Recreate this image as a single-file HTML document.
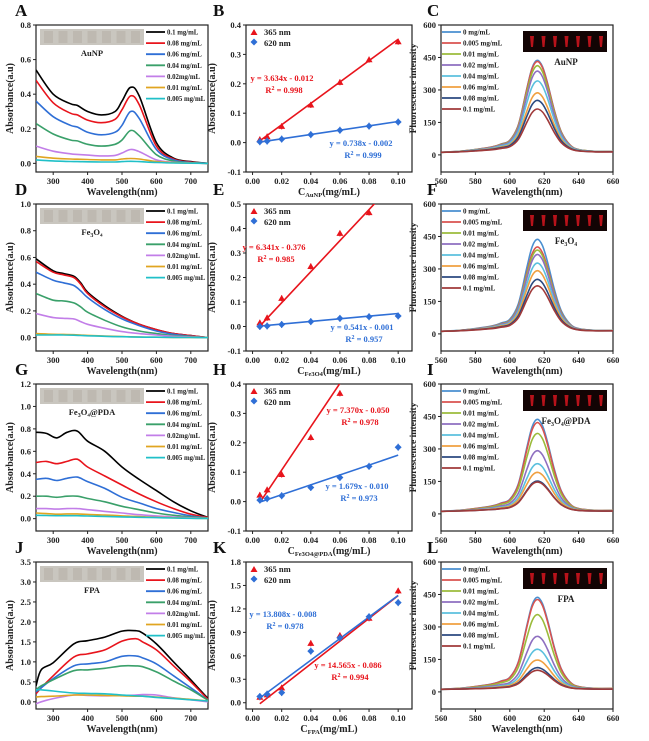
<!DOCTYPE html>
<html><head><meta charset="utf-8"><style>
body{margin:0;background:#fff;}
svg{display:block;font-family:"Liberation Serif",serif;font-weight:bold;}
</style></head><body>
<svg id="fig" width="649" height="741" viewBox="0 0 649 741" xmlns="http://www.w3.org/2000/svg"></svg>
<script>
// ---------- DATA ----------
const absLegend = ["0.1 mg/mL","0.08 mg/mL","0.06 mg/mL","0.04 mg/mL","0.02mg/mL","0.01 mg/mL","0.005 mg/mL"];
const absColors = ["#000000","#e8141c","#2f6fd6","#3aa06a","#c27ee8","#e0a520","#20c0c8"];
const wlA = [250,300,350,370,400,440,480,500,525,550,600,650,700,750];
const specA = [
 [0.54,0.40,0.345,0.335,0.30,0.28,0.30,0.36,0.44,0.39,0.12,0.03,0.01,0.0],
 [0.48,0.35,0.29,0.28,0.25,0.235,0.255,0.31,0.39,0.34,0.10,0.025,0.008,0.0],
 [0.36,0.27,0.22,0.21,0.18,0.165,0.18,0.22,0.30,0.26,0.08,0.02,0.005,0.0],
 [0.23,0.17,0.135,0.13,0.11,0.10,0.11,0.135,0.19,0.16,0.05,0.013,0.003,0],
 [0.10,0.07,0.055,0.052,0.048,0.043,0.046,0.06,0.08,0.068,0.02,0.006,0.002,0],
 [0.04,0.03,0.025,0.024,0.022,0.02,0.02,0.025,0.028,0.025,0.01,0.004,0.002,0],
 [0.02,0.014,0.011,0.01,0.009,0.008,0.008,0.01,0.012,0.01,0.005,0.002,0.001,0]];
const wlD = [250,300,330,360,380,400,450,500,550,600,650,700,750];
const specD = [
 [0.59,0.50,0.48,0.46,0.41,0.34,0.24,0.16,0.10,0.06,0.03,0.015,0.0],
 [0.57,0.49,0.47,0.45,0.40,0.33,0.23,0.155,0.10,0.06,0.03,0.015,0],
 [0.49,0.43,0.41,0.39,0.35,0.30,0.21,0.14,0.09,0.05,0.025,0.01,0],
 [0.33,0.28,0.275,0.26,0.23,0.19,0.13,0.08,0.05,0.03,0.015,0.008,0],
 [0.18,0.15,0.145,0.14,0.12,0.10,0.07,0.045,0.03,0.02,0.01,0.005,0],
 [0.03,0.025,0.024,0.022,0.02,0.017,0.012,0.008,0.005,0.003,0.002,0.001,0],
 [0.02,0.02,0.02,0.018,0.016,0.014,0.01,0.007,0.004,0.003,0.002,0.001,0]];
const wlG = [250,280,310,340,370,400,450,500,550,600,650,700,750];
const specG = [
 [0.77,0.76,0.72,0.77,0.78,0.69,0.60,0.46,0.35,0.25,0.15,0.07,0.01],
 [0.50,0.51,0.49,0.51,0.53,0.46,0.38,0.30,0.22,0.15,0.09,0.04,0.01],
 [0.35,0.36,0.34,0.36,0.37,0.33,0.27,0.19,0.14,0.09,0.055,0.025,0.005],
 [0.20,0.20,0.19,0.20,0.20,0.18,0.15,0.11,0.08,0.05,0.03,0.015,0.005],
 [0.09,0.09,0.085,0.09,0.09,0.08,0.065,0.05,0.035,0.025,0.015,0.008,0.003],
 [0.05,0.045,0.04,0.042,0.042,0.038,0.032,0.025,0.018,0.012,0.008,0.004,0.002],
 [0.03,0.028,0.026,0.026,0.026,0.024,0.02,0.016,0.012,0.009,0.006,0.003,0.001]];
const wlJ = [250,265,300,360,400,450,500,540,560,600,650,700,750];
const specJ = [
 [0.4,0.8,0.98,1.45,1.53,1.62,1.77,1.78,1.72,1.45,1.00,0.55,0.08],
 [0.2,0.35,0.65,1.12,1.20,1.30,1.52,1.58,1.50,1.30,0.90,0.50,0.06],
 [0.25,0.35,0.58,0.90,0.95,1.00,1.14,1.15,1.10,0.95,0.65,0.35,0.04],
 [0.3,0.4,0.55,0.78,0.80,0.84,0.90,0.90,0.88,0.75,0.52,0.30,0.04],
 [-0.05,0.0,0.08,0.17,0.16,0.15,0.16,0.17,0.18,0.17,0.10,0.05,0.0],
 [0.12,0.13,0.14,0.17,0.17,0.16,0.15,0.14,0.14,0.12,0.09,0.06,0.02],
 [0.3,0.3,0.27,0.22,0.21,0.2,0.17,0.15,0.14,0.11,0.08,0.05,0.02]];

const conc = [0.005,0.01,0.02,0.04,0.06,0.08,0.1];
const redB = [0.01,0.02,0.055,0.128,0.205,0.282,0.343];
const blueB = [0.003,0.005,0.012,0.027,0.042,0.056,0.07];
const redE = [0.015,0.035,0.115,0.245,0.38,0.465];
const blueE = [0,0.002,0.008,0.02,0.033,0.04,0.043];
const redH = [0.022,0.04,0.092,0.218,0.368];
const blueH = [0.005,0.01,0.02,0.048,0.082,0.12,0.185];
const redK = [0.07,0.1,0.19,0.76,0.86,1.08,1.43];
const blueK = [0.08,0.11,0.13,0.66,0.83,1.1,1.28];

const flLegend = ["0 mg/mL","0.005 mg/mL","0.01 mg/mL","0.02 mg/mL","0.04 mg/mL","0.06 mg/mL","0.08 mg/mL","0.1 mg/mL"];
const flColors = ["#4a8fd0","#d9534f","#9bbb3b","#8e6fc0","#5bc0de","#f0a040","#2b4a80","#a03a3a"];
const flWl = [560,570,580,590,595,600,605,610,613,616,619,622,626,630,635,640,650,660];
const flShape = [0,0.01,0.03,0.06,0.09,0.13,0.3,0.7,0.92,1.0,0.93,0.75,0.45,0.22,0.08,0.03,0.01,0.01];
const peaksC = [425,420,400,375,330,275,240,200];
const peaksF = [425,390,375,355,315,280,240,210];
const peaksI = [425,410,360,280,220,180,140,135];
const peaksL = [425,415,345,245,185,135,100,88];

// ---------- HELPERS ----------
const NS="http://www.w3.org/2000/svg";
const svg=document.getElementById('fig');
function el(tag,attrs,parent){const e=document.createElementNS(NS,tag);for(const k in attrs)e.setAttribute(k,attrs[k]);(parent||svg).appendChild(e);return e;}
function txt(s,x,y,size,fill,anchor,parent){const t=el('text',{x:x,y:y,'font-size':size,fill:fill||'#222','text-anchor':anchor||'start'},parent);t.textContent=s;return t;}
function spline(pts){let d='M'+pts[0][0].toFixed(1)+','+pts[0][1].toFixed(1);
 for(let i=0;i<pts.length-1;i++){const p0=pts[i-1]||pts[i],p1=pts[i],p2=pts[i+1],p3=pts[i+2]||p2;
  const c1=[p1[0]+(p2[0]-p0[0])/6,p1[1]+(p2[1]-p0[1])/6],c2=[p2[0]-(p3[0]-p1[0])/6,p2[1]-(p3[1]-p1[1])/6];
  d+='C'+c1[0].toFixed(1)+','+c1[1].toFixed(1)+' '+c2[0].toFixed(1)+','+c2[1].toFixed(1)+' '+p2[0].toFixed(1)+','+p2[1].toFixed(1);}
 return d;}
let clipId=0;
function axes(o){
 const g=el('g',{});
 
 
 const sx=v=>o.x0+(v-o.xmin)/(o.xmax-o.xmin)*(o.x1-o.x0);
 const sy=v=>o.y1-(v-o.ymin)/(o.ymax-o.ymin)*(o.y1-o.y0);
 el('rect',{x:o.x0,y:o.y0,width:o.x1-o.x0,height:o.y1-o.y0,fill:'none',stroke:'#222','stroke-width':1.2},g);
 o.xt.forEach((v,i)=>{const X=sx(v);el('line',{x1:X,x2:X,y1:o.y1,y2:o.y1+3,stroke:'#222'},g);
  const t=txt(o.xl[i],X,o.y1+12,8.5,'#222','middle',g);
  
  });
 o.yt.forEach((v,i)=>{const Y=sy(v);el('line',{x1:o.x0-3,x2:o.x0,y1:Y,y2:Y,stroke:'#222'},g);
  const t=txt(o.yl[i],o.x0-5,Y+3,8.5,'#222','end',g);
  
  });
 const id='c'+(clipId++);
 const cp=el('clipPath',{id:id},g);el('rect',{x:o.x0,y:o.y0,width:o.x1-o.x0,height:o.y1-o.y0},cp);
 const inner=el('g',{'clip-path':'url(#'+id+')'},g);
 return {g,inner,sx,sy};
}
function ylabel(s,x,cy,size){const t=el('text',{x:0,y:0,'font-size':size||10,fill:'#222','text-anchor':'middle',transform:'translate('+x+','+cy+') rotate(-90)'});t.textContent=s;
 
 }
function panelLetter(s,x,y){const t=txt(s,x,y,17,'#111','start');
 
 }
function grayInset(x,y,w,h){const r=el('rect',{x:x,y:y,width:w,height:h,fill:'#c9c6bf'});
 
 
 for(let i=0;i<7;i++)el('rect',{x:x+4+i*14.5,y:y+2,width:9,height:h-4,fill:'#b9b4ab',opacity:0.7});}
function redInset(x,y,w,h){const r=el('rect',{x:x,y:y,width:w,height:h,fill:'#120404'});
 
 
 for(let i=0;i<7;i++)el('path',{d:'M'+(x+7+i*11.5)+','+(y+5)+'h4l-1,'+(h-10)+'h-2z',fill:'#b8121a'});}

// ---------- ABSORBANCE PANELS ----------
const rowTop=[25,204,384,562], rowH=147;
function absPanel(r,wl,spec,ymin,ymax,yt,yl,inset,letter){
 const y0=rowTop[r],y1=y0+rowH;
 const a=axes({name:'absorbance-spectra-'+letter,x0:36,x1:208,y0,y1,xmin:250,xmax:750,ymin,ymax,xt:[300,400,500,600,700],xl:['300','400','500','600','700'],yt,yl});
 spec.forEach((s,i)=>{const p=el('path',{d:spline(s.map((v,j)=>[a.sx(wl[j]),a.sy(v)])),fill:'none',stroke:absColors[i],'stroke-width':1.6},a.inner);
  
  });
 grayInset(40,y0+4,104,16);
 const it=txt(inset[0],92,y0+31,8.5,'#222','middle');
 if(inset[1]){it.textContent='';const t1=el('tspan',{},it);t1.textContent=inset[0];const t2=el('tspan',{dy:2,'font-size':6},it);t2.textContent=inset[1];const t3=el('tspan',{dy:-2},it);t3.textContent=inset[2]||'';}
 absLegend.forEach((s,i)=>{const Y=y0+7+i*11.1;el('line',{x1:146,x2:165,y1:Y,y2:Y,stroke:absColors[i],'stroke-width':1.8});
  const t=txt(s,167,Y+2.5,6.8,'#222');});
 ylabel('Absorbance(a.u)',13,(y0+y1)/2);
 const xt=txt('Wavelength(nm)',122,y1+23,10,'#222','middle');
 panelLetter(letter,15,y0-9);
}
absPanel(0,wlA,specA,-0.05,0.8,[0,0.2,0.4,0.6,0.8],['0.0','0.2','0.4','0.6','0.8'],['AuNP'],'A');
absPanel(1,wlD,specD,-0.1,1.0,[0,0.2,0.4,0.6,0.8,1.0],['0.0','0.2','0.4','0.6','0.8','1.0'],['Fe','3','O₄'],'D');
absPanel(2,wlG,specG,-0.11,1.2,[0,0.2,0.4,0.6,0.8,1.0,1.2],['0.0','0.2','0.4','0.6','0.8','1.0','1.2'],['Fe','3','O₄@PDA'],'G');
absPanel(3,wlJ,specJ,-0.18,3.5,[0,0.5,1,1.5,2,2.5,3,3.5],['0.0','0.5','1.0','1.5','2.0','2.5','3.0','3.5'],['FPA'],'J');

// ---------- LINEAR FIT PANELS ----------
function linPanel(r,ymin,ymax,yt,yl,red,blue,fits,eqs,sub,letter){
 const y0=rowTop[r],y1=y0+rowH;
 const a=axes({name:'calibration-'+letter,x0:246,x1:412,y0,y1,xmin:-0.0045,xmax:0.1095,ymin,ymax,xt:[0,0.02,0.04,0.06,0.08,0.1],xl:['0.00','0.02','0.04','0.06','0.08','0.10'],yt,yl});
 [['#e8141c',fits[0]],['#2f6fd6',fits[1]]].forEach(([c,f])=>{const l=el('line',{x1:a.sx(f[2]),y1:a.sy(f[0]*f[2]+f[1]),x2:a.sx(f[3]),y2:a.sy(f[0]*f[3]+f[1]),stroke:c,'stroke-width':1.6},a.inner);
  });
 red.forEach((v,i)=>{const X=a.sx(conc[i]),Y=a.sy(v);el('line',{x1:X,x2:X,y1:Y-3,y2:Y+3,stroke:'#e8141c'},a.inner);
  const m=el('path',{d:'M'+X+','+(Y-3.5)+'l3.5,6h-7z',fill:'#e8141c'},a.inner);
  });
 blue.forEach((v,i)=>{const X=a.sx(conc[i]),Y=a.sy(v);el('line',{x1:X,x2:X,y1:Y-3.5,y2:Y+3.5,stroke:'#2f6fd6'},a.inner);
  const m=el('path',{d:'M'+X+','+(Y-3.5)+'l3.5,3.5l-3.5,3.5l-3.5,-3.5z',fill:'#2f6fd6'},a.inner);
  });
 el('path',{d:'M254,'+(y0+4)+'l3.5,6h-7z',fill:'#e8141c'});
 let t=txt('365 nm',264,y0+10,8.5,'#222');
 el('path',{d:'M254,'+(y0+13.5)+'l3.5,3.5l-3.5,3.5l-3.5,-3.5z',fill:'#2f6fd6'});
 t=txt('620 nm',264,y0+21,8.5,'#222');
 eqs.forEach(e=>{const t1=txt(e[0],e[2],e[3],8.5,e[4],'middle');
  const t2=txt('',e[2]+2,e[3]+12,8.5,e[4],'middle');const a1=el('tspan',{},t2);a1.textContent='R';const a2=el('tspan',{dy:-3,'font-size':6},t2);a2.textContent='2';const a3=el('tspan',{dy:3},t2);a3.textContent=' = '+e[1];
  });
 ylabel('Absorbance(a.u)',215,(y0+y1)/2);
 const xt=txt('',329,y1+23,10,'#222','middle');const s1=el('tspan',{},xt);s1.textContent='C';const s2=el('tspan',{dy:2,'font-size':6.5},xt);s2.textContent=sub;const s3=el('tspan',{dy:-2},xt);s3.textContent='(mg/mL)';
 
 panelLetter(letter,213,y0-9);
}
linPanel(0,-0.1,0.4,[-0.1,0,0.1,0.2,0.3,0.4],['-0.1','0.0','0.1','0.2','0.3','0.4'],redB,blueB,
 [[3.634,-0.012,0.005,0.1],[0.738,-0.002,0.005,0.1]],
 [['y = 3.634x - 0.012','0.998',282,81,'#e8141c'],['y = 0.738x - 0.002','0.999',361,146,'#2f6fd6']],'AuNP','B');
linPanel(1,-0.1,0.5,[-0.1,0,0.1,0.2,0.3,0.4,0.5],['-0.1','0.0','0.1','0.2','0.3','0.4','0.5'],redE,blueE,
 [[6.341,-0.03,0.005,0.085],[0.541,-0.001,0.005,0.1]],
 [['y = 6.341x - 0.376','0.985',274,250,'#e8141c'],['y = 0.541x - 0.001','0.957',362,330,'#2f6fd6']],'Fe3O4','E');
linPanel(2,-0.1,0.4,[-0.1,0,0.1,0.2,0.3,0.4],['-0.1','0.0','0.1','0.2','0.3','0.4'],redH,blueH,
 [[7.37,-0.04,0.005,0.07],[1.679,-0.01,0.005,0.1]],
 [['y = 7.370x - 0.050','0.978',358,413,'#e8141c'],['y = 1.679x - 0.010','0.973',357,489,'#2f6fd6']],'Fe3O4@PDA','H');
linPanel(3,-0.08,1.8,[0,0.3,0.6,0.9,1.2,1.5,1.8],['0.0','0.3','0.6','0.9','1.2','1.5','1.8'],redK,blueK,
 [[14.565,-0.086,0.005,0.1],[13.808,-0.008,0.005,0.1]],
 [['y = 13.808x - 0.008','0.978',283,617,'#2f6fd6'],['y = 14.565x - 0.086','0.994',348,668,'#e8141c']],'FPA','K');

// ---------- FLUORESCENCE PANELS ----------
function flPanel(r,peaks,inset,letter){
 const y0=rowTop[r],y1=y0+rowH;
 const a=axes({name:'fluorescence-'+letter,x0:441,x1:613,y0,y1,xmin:560,xmax:660,ymin:-79,ymax:600,xt:[560,580,600,620,640,660],xl:['560','580','600','620','640','660'],yt:[0,150,300,450,600],yl:['0','150','300','450','600']});
 peaks.forEach((pk,i)=>{const p=el('path',{d:spline(flShape.map((s,j)=>[a.sx(flWl[j]),a.sy(12+pk*s)])),fill:'none',stroke:flColors[i],'stroke-width':1.6},a.inner);
  });
 flLegend.forEach((s,i)=>{const Y=y0+7+i*11;el('line',{x1:442,x2:461,y1:Y,y2:Y,stroke:flColors[i],'stroke-width':1.8});
  const t=txt(s,463,Y+2.5,7,'#222');});
 redInset(523,y0+6,84,21);
 const it=txt(inset[0],566,y0+40,9,'#222','middle');
 if(inset[1]){it.textContent='';const t1=el('tspan',{},it);t1.textContent=inset[0];const t2=el('tspan',{dy:2,'font-size':6},it);t2.textContent=inset[1];const t3=el('tspan',{dy:-2},it);t3.textContent=inset[2];}
 ylabel('Fluorescence intensity',416,(y0+y1)/2-10,9.5);
 const xt=txt('Wavelength(nm)',527,y1+23,10,'#222','middle');
 panelLetter(letter,427,y0-9);
}
flPanel(0,peaksC,['AuNP'],'C');
flPanel(1,peaksF,['Fe','3','O₄'],'F');
flPanel(2,peaksI,['Fe','3','O₄@PDA'],'I');
flPanel(3,peaksL,['FPA'],'L');
</script>
</body></html>
